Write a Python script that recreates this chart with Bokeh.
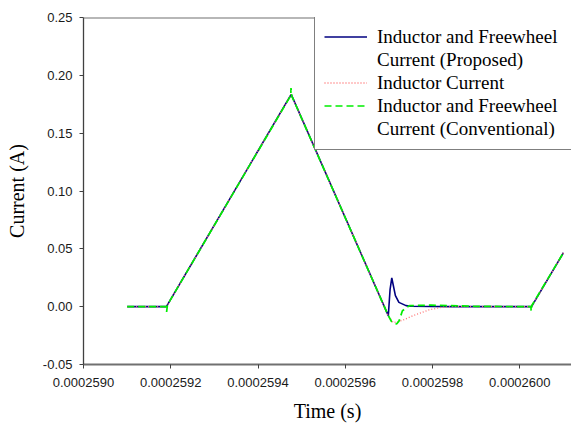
from bokeh.plotting import figure
from bokeh.models import (Legend, LegendItem, FixedTicker, CustomJSTickFormatter,
                          Span, Range1d)
from bokeh.embed import file_html
from bokeh.resources import INLINE

# ---- data (time in s, current in A) ----
time_proposed = [0.00025910, 0.00025919, 0.000259476, 0.0002596986, 0.0002597027,
                 0.0002597066, 0.0002597149, 0.0002597229, 0.0002597392, 0.0002597500,
                 0.0002598445, 0.0002600269, 0.00026010]
current_proposed = [0.0, 0.0, 0.1835, -0.0078, 0.0150,
                    0.0248, 0.0095, 0.0037, 0.0009, 0.0004,
                    0.0, 0.0, 0.0466]

time_inductor = [0.00025910, 0.00025919, 0.000259476, 0.0002596986, 0.0002597100,
                 0.0002597300, 0.0002597553, 0.0002597917, 0.0002598202, 0.0002598445,
                 0.0002598700, 0.0002600269, 0.00026010]
current_inductor = [0.0, 0.0, 0.1835, -0.0078, -0.0138,
                    -0.0120, -0.0078, -0.0028, -0.0006, 0.0,
                    0.0, 0.0, 0.0466]

time_conventional = [0.00025910, 0.0002591900, 0.0002591905, 0.0002591925, 0.000259475,
                     0.0002594756, 0.000259477, 0.0002596986, 0.000259706, 0.0002597176,
                     0.000259723, 0.000259731, 0.0002597472, 0.000259796, 0.00025990,
                     0.0002600255, 0.0002600260, 0.0002600275, 0.00026010]
current_conventional = [0.0, 0.0, -0.0045, 0.0016, 0.1825,
                        0.1890, 0.1825, -0.0078, -0.0128, -0.0150,
                        -0.0125, -0.0035, 0.0009, 0.0013, 0.0003,
                        0.0, -0.0040, 0.0010, 0.0466]

x_ticks = [0.0002590, 0.0002592, 0.0002594, 0.0002596, 0.0002598, 0.0002600]
x_tick_labels = ["0.0002590", "0.0002592", "0.0002594", "0.0002596", "0.0002598", "0.0002600"]
y_ticks = [-0.05, 0.0, 0.05, 0.10, 0.15, 0.20, 0.25]
y_tick_labels = ["-0.05", "0.00", "0.05", "0.10", "0.15", "0.20", "0.25"]

legend_labels = ["Inductor and Freewheel", "Current (Proposed)", "Inductor Current",
                 "Inductor and Freewheel", "Current (Conventional)"]

p = figure(width=571, height=427, output_backend="svg", toolbar_location=None,
           x_range=Range1d(0.0002590, 0.0002601185), y_range=Range1d(-0.05, 0.25),
           min_border_left=83, min_border_right=0, min_border_top=17, min_border_bottom=63)

p.background_fill_color = "white"
p.border_fill_color = "white"
p.outline_line_color = None
p.grid.visible = False

nearest_js = """
let best = 0;
for (let i = 0; i < tvals.length; i++) {
  if (Math.abs(tvals[i] - tick) < Math.abs(tvals[best] - tick)) best = i;
}
return tlabels[best];
"""

p.xaxis.ticker = FixedTicker(ticks=x_ticks)
p.xaxis.formatter = CustomJSTickFormatter(args=dict(tvals=x_ticks, tlabels=x_tick_labels), code=nearest_js)
p.yaxis.ticker = FixedTicker(ticks=y_ticks)
p.yaxis.formatter = CustomJSTickFormatter(args=dict(tvals=y_ticks, tlabels=y_tick_labels), code=nearest_js)

for ax in (p.xaxis[0], p.yaxis[0]):
    ax.minor_tick_line_color = None
    ax.major_tick_in = 0
    ax.major_tick_out = 4
    ax.major_label_text_font = "Liberation Sans"
    ax.major_label_text_font_size = "13px"
    ax.major_label_text_color = "#1a1a1a"
    ax.axis_label_text_font = "Liberation Serif"
    ax.axis_label_text_font_size = "20px"
    ax.axis_label_text_font_style = "normal"
    ax.axis_label_text_color = "black"

p.xaxis.axis_label = "Time (s)"
p.yaxis.axis_label = "Current (A)"
p.xaxis.axis_line_color = "#707070"
p.xaxis.axis_line_width = 2
p.xaxis.major_tick_line_color = "#404040"
p.xaxis.major_label_standoff = 9
p.xaxis.axis_label_standoff = 10
p.yaxis.axis_line_color = "#404040"
p.yaxis.axis_line_width = 1.3
p.yaxis.major_tick_line_color = "#404040"
p.yaxis.major_label_standoff = 7
p.yaxis.axis_label_standoff = 12

r_blue = p.line(time_proposed, current_proposed, line_color="#000080", line_width=1.6)
r_red = p.line(time_inductor, current_inductor, line_color="#FF7070", line_width=1.3,
               line_dash="1 2")
r_green = p.line(time_conventional, current_conventional, line_color="#00EE00",
                 line_width=1.7, line_dash="7 4")
r_blank = p.line(x=[], y=[], line_alpha=0)

legend = Legend(items=[
    LegendItem(label=legend_labels[0], renderers=[r_blue]),
    LegendItem(label=legend_labels[1], renderers=[r_blank]),
    LegendItem(label=legend_labels[2], renderers=[r_red]),
    LegendItem(label=legend_labels[3], renderers=[r_green]),
    LegendItem(label=legend_labels[4], renderers=[r_blank]),
], location=(231, 214))
legend.border_line_color = "black"
legend.border_line_width = 1
legend.background_fill_color = "white"
legend.background_fill_alpha = 1
legend.padding = 9
legend.spacing = 0
legend.margin = 0
legend.glyph_width = 43
legend.glyph_height = 23
legend.label_height = 23
legend.label_width = 200
legend.label_standoff = 10
legend.label_text_font = "Liberation Serif"
legend.label_text_font_size = "19px"
legend.label_text_color = "black"
p.add_layout(legend)

top_line = Span(location=0.25, dimension="width", line_color="#707070", line_width=2)
p.add_layout(top_line)

open("out.html", "w").write(file_html(p, INLINE))
